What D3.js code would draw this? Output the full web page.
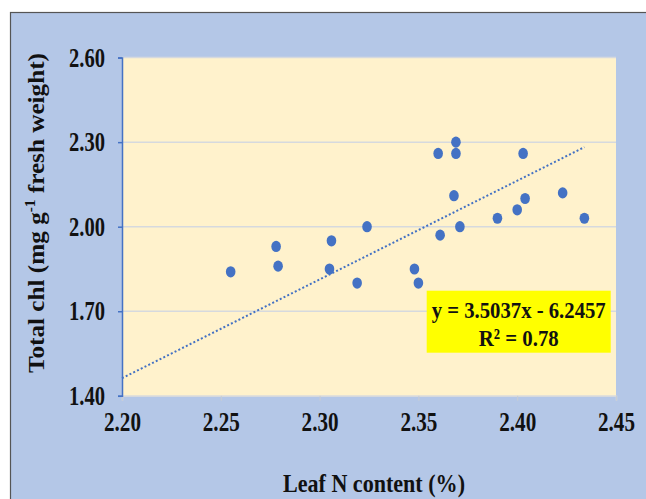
<!DOCTYPE html>
<html>
<head>
<meta charset="utf-8">
<script src="https://d3js.org/d3.v7.min.js"></script>
<style>
  body { margin:0; background:#fff; }
  text { font-family:"Liberation Serif","Times New Roman",serif; font-weight:bold; fill:#111; }
</style>
</head>
<body>
<div class="canvas" id="canvas" style="width:646px;height:499px;"></div>
<script>
// leaf N content (%) vs total chlorophyll (mg g-1 fresh weight)
var leafN = [2.255, 2.278, 2.279, 2.306, 2.305, 2.319, 2.324, 2.348, 2.350, 2.360, 2.361,
             2.369, 2.369, 2.368, 2.371, 2.390, 2.400, 2.404, 2.403, 2.423, 2.434];
var totalChl = [1.84, 1.93, 1.86, 1.95, 1.85, 1.80, 2.00, 1.85, 1.80, 2.26, 1.97,
                2.30, 2.26, 2.11, 2.00, 2.03, 2.06, 2.10, 2.26, 2.12, 2.03];

var xTicks = [2.20, 2.25, 2.30, 2.35, 2.40, 2.45];
var yTicks = [1.40, 1.70, 2.00, 2.30, 2.60];

var slope = 3.5037, intercept = -6.2457;
var eqLabel = 'y = 3.5037x - 6.2457';
var r2Label = 'R² = 0.78';

var W = 646, H = 499;
var m = {t:57.6, r:30, b:103.2, l:122},
    w = W - m.l - m.r,
    h = H - m.t - m.b;

var svg = d3.select('.canvas')
    .append('svg')
    .attr('width', W)
    .attr('height', H);

// outer chart area
svg.append('rect')
    .attr('x', 10.5).attr('y', 12.5)
    .attr('width', W + 20).attr('height', H + 20)
    .attr('fill', '#B4C7E7')
    .attr('stroke', '#555').attr('stroke-width', 1.2);

var plot = svg.append('g')
    .attr('transform', 'translate(' + m.l + ',' + m.t + ')');

var x = d3.scaleLinear().domain([2.20, 2.45]).range([0, w]);
var y = d3.scaleLinear().domain([1.40, 2.60]).range([h, 0]);

plot.append('rect')
    .attr('width', w).attr('height', h)
    .attr('fill', '#FFF2CC');

// gridlines
plot.selectAll('.grid')
    .data(yTicks.slice(1))
    .enter()
    .append('line').attr('class', 'grid')
    .attr('x1', 0).attr('x2', w)
    .attr('y1', function(d){ return y(d); })
    .attr('y2', function(d){ return y(d); })
    .attr('stroke', '#D6D9DE').attr('stroke-width', 1.5);

// x axis
var xAxis = plot.append('g')
    .attr('transform', 'translate(0,' + h + ')')
    .call(d3.axisBottom(x).tickValues(xTicks).tickFormat(d3.format('.2f')).tickSizeOuter(0).tickSize(5).tickPadding(11));
xAxis.select('.domain').attr('stroke', '#D6D9DE').attr('stroke-width', 1.5);
xAxis.selectAll('.tick line').attr('stroke', '#C9CDD3');
xAxis.selectAll('.tick text')
    .attr('fill', '#111')
    .style('font-size', '27px')
    .attr('textLength', 37).attr('lengthAdjust', 'spacingAndGlyphs');

// y axis
var yAxis = plot.append('g')
    .call(d3.axisLeft(y).tickValues(yTicks).tickFormat(d3.format('.2f')).tickSizeOuter(0).tickSize(4).tickPadding(13));
yAxis.select('.domain').attr('stroke', '#4472C4').attr('stroke-width', 1.5);
yAxis.selectAll('.tick line').attr('stroke', '#4472C4').attr('stroke-width', 1.5);
yAxis.selectAll('.tick text')
    .attr('fill', '#111')
    .style('font-size', '27px')
    .attr('textLength', 36).attr('lengthAdjust', 'spacingAndGlyphs');

// trendline
var xEnd = d3.max(leafN);
plot.append('line')
    .attr('x1', x(2.20)).attr('y1', y(slope * 2.20 + intercept))
    .attr('x2', x(xEnd)).attr('y2', y(slope * xEnd + intercept))
    .attr('stroke', '#4472C4').attr('stroke-width', 2)
    .attr('stroke-dasharray', '2,2.2');

// points
plot.selectAll('.pt')
    .data(leafN)
    .enter()
    .append('ellipse').attr('class', 'pt')
    .attr('cx', function(d){ return x(d); })
    .attr('cy', function(d, i){ return y(totalChl[i]); })
    .attr('rx', 4.8).attr('ry', 5.6)
    .attr('fill', '#4472C4');

// equation box
var box = plot.append('g')
    .attr('transform', 'translate(' + (426.7 - m.l) + ',' + (290.7 - m.t) + ')');
box.append('rect')
    .attr('width', 184).attr('height', 62)
    .attr('fill', '#FFFF00');
box.append('text')
    .attr('x', 92).attr('y', 27)
    .attr('text-anchor', 'middle')
    .style('font-size', '24px')
    .attr('textLength', 174).attr('lengthAdjust', 'spacingAndGlyphs')
    .text(eqLabel);
box.append('text')
    .attr('x', 92).attr('y', 55)
    .attr('text-anchor', 'middle')
    .style('font-size', '24px')
    .attr('textLength', 80).attr('lengthAdjust', 'spacingAndGlyphs')
    .text(r2Label);

// axis titles
svg.append('text')
    .attr('x', 374).attr('y', 492)
    .attr('text-anchor', 'middle')
    .style('font-size', '26px')
    .attr('textLength', 182).attr('lengthAdjust', 'spacingAndGlyphs')
    .text('Leaf N content (%)');

var yt = svg.append('text')
    .attr('transform', 'translate(44,213) rotate(-90)')
    .attr('text-anchor', 'middle')
    .style('font-size', '23px')
    .attr('textLength', 320).attr('lengthAdjust', 'spacingAndGlyphs');
yt.append('tspan').text('Total chl (mg g');
yt.append('tspan').attr('dy', -9).style('font-size', '14px').text('-1');
yt.append('tspan').attr('dy', 9).text(' fresh weight)');
</script>
</body>
</html>
